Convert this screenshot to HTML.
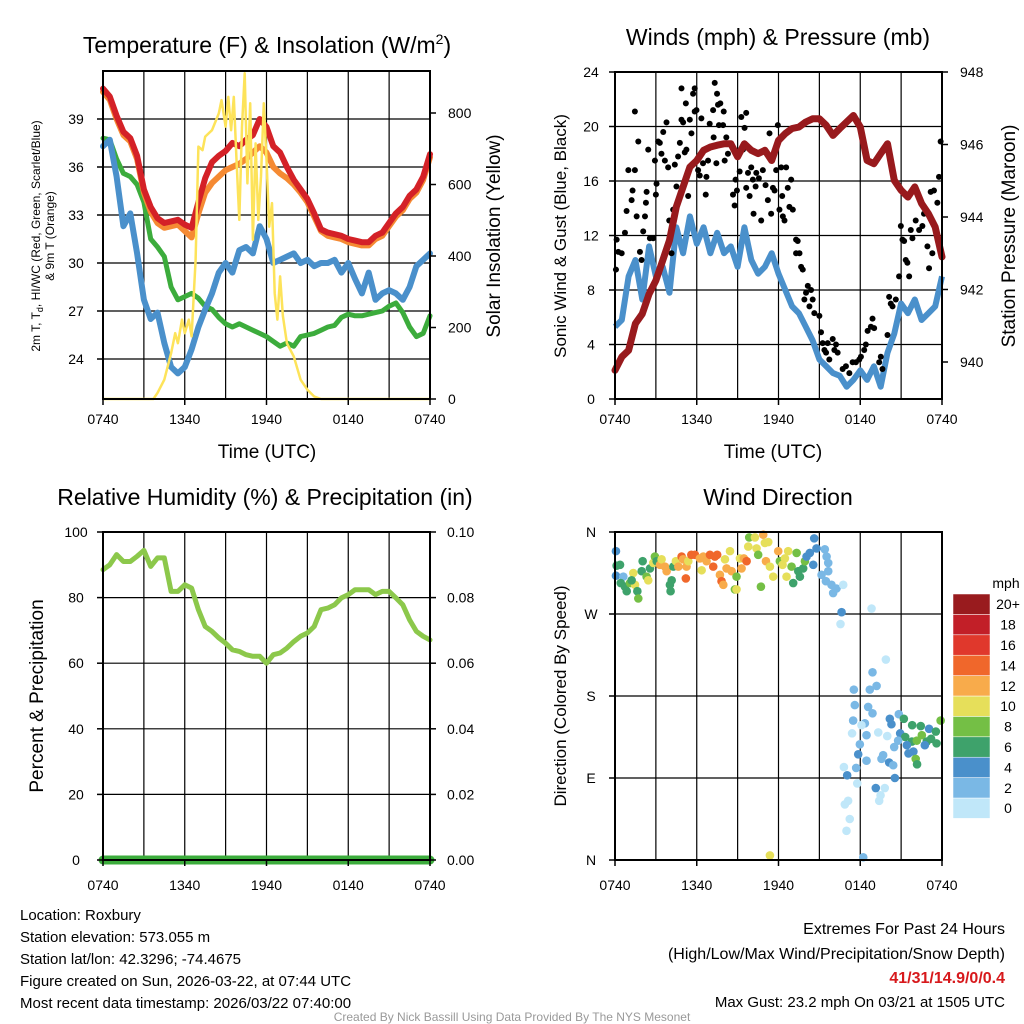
<!DOCTYPE html>
<html><head><meta charset="utf-8"><title>Station Meteogram</title>
<style>
html,body{margin:0;padding:0;background:#fff;}
svg{display:block;font-family:"Liberation Sans",Arial,sans-serif;}
</style></head>
<body>
<svg id="chart" width="1024" height="1024" viewBox="0 0 1024 1024" xmlns="http://www.w3.org/2000/svg">
<rect x="0" y="0" width="1024" height="1024" fill="#fff"/>
<g id="p1"></g>
<g id="p2"></g>
<g id="p3"></g>
<g id="p4"></g>

<text x="267" y="53" font-size="23" text-anchor="middle">Temperature (F) &amp; Insolation (W/m<tspan dy="-9" font-size="14">2</tspan><tspan dy="9">)</tspan></text>
<text x="778" y="45" font-size="23" text-anchor="middle">Winds (mph) &amp; Pressure (mb)</text>
<text x="265" y="505" font-size="23" text-anchor="middle">Relative Humidity (%) &amp; Precipitation (in)</text>
<text x="778" y="505" font-size="23" text-anchor="middle">Wind Direction</text>

<text transform="translate(40,236) rotate(-90)" font-size="12" text-anchor="middle">2m T, T<tspan dy="3" font-size="9">d</tspan><tspan dy="-3">, HI/WC (Red, Green, Scarlet/Blue)</tspan></text>
<text transform="translate(54,236) rotate(-90)" font-size="12" text-anchor="middle">&amp; 9m T (Orange)</text>
<text transform="translate(500,236) rotate(-90)" font-size="19" text-anchor="middle">Solar Insolation (Yellow)</text>
<text x="267" y="458" font-size="19" text-anchor="middle">Time (UTC)</text>

<text transform="translate(566,236) rotate(-90)" font-size="17" text-anchor="middle">Sonic Wind &amp; Gust (Blue, Black)</text>
<text transform="translate(1015,236) rotate(-90)" font-size="19" text-anchor="middle">Station Pressure (Maroon)</text>
<text x="773" y="458" font-size="19" text-anchor="middle">Time (UTC)</text>

<text transform="translate(43,696) rotate(-90)" font-size="19" text-anchor="middle">Percent &amp; Precipitation</text>
<text transform="translate(566,696) rotate(-90)" font-size="17" text-anchor="middle">Direction (Colored By Speed)</text>

<g id="cbar"></g>
<text x="1006" y="588" font-size="14" text-anchor="middle">mph</text>

<g font-size="15">
<text x="20" y="920">Location: Roxbury</text>
<text x="20" y="942">Station elevation: 573.055 m</text>
<text x="20" y="964">Station lat/lon: 42.3296; -74.4675</text>
<text x="20" y="986">Figure created on Sun, 2026-03-22, at 07:44 UTC</text>
<text x="20" y="1008">Most recent data timestamp: 2026/03/22 07:40:00</text>
</g>
<g font-size="16" text-anchor="end">
<text x="1005" y="934">Extremes For Past 24 Hours</text>
<text x="1005" y="959">(High/Low/Max Wind/Precipitation/Snow Depth)</text>
<text x="1005" y="983" font-weight="bold" fill="#d7191c">41/31/14.9/0/0.4</text>
<text x="1005" y="1007" font-size="15">Max Gust: 23.2 mph On 03/21 at 1505 UTC</text>
</g>
<text x="512" y="1021" font-size="12" fill="#999" text-anchor="middle">Created By Nick Bassill Using Data Provided By The NYS Mesonet</text>
</svg>
<script>
// ---------- DATA ----------
const hours = [0,0.5,1,1.5,2,2.5,3,3.5,4,4.5,5,5.5,6,6.5,7,7.5,8,8.5,9,9.5,10,10.5,11,11.5,12,12.5,13,13.5,14,14.5,15,15.5,16,16.5,17,17.5,18,18.5,19,19.5,20,20.5,21,21.5,22,22.5,23,23.5,24];
const timeTickLabels = ["0740","1340","1940","0140","0740"];
const timeTickHours = [0,6,12,18,24];
const tempTicks = [24,27,30,33,36,39];
const solarTicks = [0,200,400,600,800];
const temp2m = [40.9,40.4,39.2,38.2,37.8,36.7,34.6,33.5,32.8,32.5,32.6,32.7,32.4,32.2,33.8,35.3,36.3,36.7,37.0,37.5,37.3,37.7,38.0,39.0,38.5,37.3,36.9,36.0,35.2,34.6,34.0,33.1,32.1,31.9,31.8,31.7,31.5,31.4,31.3,31.3,31.7,31.9,32.5,33.1,33.5,34.2,34.6,35.4,36.8];
const temp9m = [40.7,40.2,39.0,38.0,37.6,36.5,34.4,33.2,32.5,32.2,32.3,32.4,32.0,31.6,33.1,34.4,35.0,35.4,35.8,36.0,36.2,36.5,36.9,37.3,36.9,36.0,35.6,35.3,34.9,34.4,33.8,32.9,32.0,31.7,31.6,31.5,31.3,31.2,31.1,31.1,31.5,31.7,32.3,32.9,33.3,34.0,34.4,35.2,36.6];
const dewpoint = [37.8,37.7,36.5,35.6,35.4,34.9,33.8,31.5,31.0,30.4,28.5,27.7,27.9,28.1,27.8,27.3,27.1,26.6,26.2,26.0,26.2,26.0,25.8,25.6,25.4,25.1,24.8,25.0,24.8,25.4,25.5,25.6,25.8,26.0,26.1,26.6,26.8,26.7,26.7,26.8,26.9,27.0,27.3,27.5,26.9,26.0,25.4,25.6,26.7];
const windchill = [37.3,37.7,35.4,32.3,33.1,30.6,27.7,26.5,26.9,25.0,23.5,23.1,23.5,24.6,26.0,27.1,28.1,29.4,30.0,29.4,30.8,31.0,30.6,32.3,31.5,30.0,30.2,30.4,30.6,30.0,30.2,29.8,30.0,30.0,30.2,29.4,30.0,29.0,28.1,29.4,27.7,28.1,28.3,28.1,27.7,28.5,29.8,30.2,30.6];
const solarHours = [0,3.7,4,4.5,5,5.3,5.5,5.8,6,6.3,6.5,6.8,7,7.3,7.5,8,8.5,8.7,9,9.2,9.4,9.6,9.8,10,10.2,10.4,10.6,10.8,11,11.2,11.4,11.6,11.8,12,12.2,12.4,12.6,12.8,13,13.2,13.5,14,14.5,15,15.5,16,24];
const solar = [0,0,17,54,128,184,156,222,184,222,175,389,706,696,734,752,799,836,762,845,752,845,669,501,762,911,603,827,445,715,501,622,827,669,482,548,296,222,343,232,156,119,54,26,7,0,0];

const windTicks = [0,4,8,12,16,20,24];
const presTicks = [940,942,944,946,948];
const windSpeed = [5.3,5.8,9,10.2,7.3,11.2,9,9.7,7.8,12.6,10.7,13.4,11.4,12.6,10.7,12.2,10.7,11.2,9.7,12.6,10.2,9.2,9.7,10.7,9.2,8,6.8,6.3,5.3,4.3,2.9,2.4,1.9,1.7,0.9,1.4,2.1,1.4,2.4,0.9,3.4,4.8,7,6.3,7.3,5.8,6.3,6.8,9];
const pressure = [939.77,940.14,940.32,941.06,941.33,941.88,942.25,942.8,943.36,944.28,944.83,945.38,945.56,945.84,945.93,945.98,946.02,946.02,945.66,946.02,945.84,945.75,945.84,945.56,946.11,946.3,946.44,946.48,946.62,946.71,946.71,946.53,946.25,946.44,946.62,946.8,946.48,945.56,945.47,945.75,946.02,945.01,944.74,944.55,944.83,944.37,944.09,943.72,942.9];
const gustHours = [0.12,0.24,0.07,0.49,0.85,0.73,0.98,1.22,1.29,1.46,1.46,1.59,1.71,1.83,1.95,2.07,2.2,2.27,2.32,2.44,2.56,2.8,2.93,3.0,3.05,3.17,3.29,3.41,3.54,3.66,3.78,3.9,3.98,4.15,4.27,4.39,4.51,4.63,4.76,4.88,4.88,5.0,5.12,5.2,5.24,5.37,5.49,5.61,5.73,5.85,5.85,5.98,6.1,6.22,6.34,6.46,6.66,6.71,6.83,6.95,7.2,7.24,7.32,7.44,7.49,7.56,7.63,7.73,7.93,7.98,8.05,8.17,8.29,8.66,8.78,8.85,8.95,9.15,9.27,9.39,9.51,9.63,9.63,9.76,9.88,10.0,10.12,10.17,10.32,10.37,10.56,10.73,10.85,11.05,11.22,11.34,11.46,11.59,11.71,11.83,11.95,12.07,12.2,12.27,12.32,12.44,12.56,12.68,12.8,12.93,13.05,13.29,13.41,13.29,13.54,13.66,13.78,13.9,14.02,14.15,14.27,14.39,14.51,14.63,15.0,15.12,15.24,15.37,15.49,15.61,15.73,15.98,16.1,16.22,16.34,16.71,16.95,17.2,17.44,17.68,17.93,18.05,18.29,18.41,18.54,18.78,18.9,19.02,19.39,19.51,19.63,20.0,20.12,20.24,20.37,20.61,20.85,20.98,21.1,21.22,21.34,21.46,21.59,21.71,21.83,22.07,22.32,22.56,22.68,22.93,23.05,23.17,23.29,23.41,23.66,23.78,23.9];
const gustSpeed = [11.7,10.8,9.5,10.7,13.8,12.2,16.8,14.6,15.3,16.8,21.1,13.4,18.9,10.8,10.2,12.3,13.4,14.4,15.2,18.3,11.8,11.8,17.5,15,15.8,18.9,18.8,18,19.6,17.5,20.3,17,13.1,10.7,13.9,17.2,15.6,17.8,18.8,20.5,22.8,20.3,18.1,21.7,18.3,14.9,20.5,19.5,22.4,22.8,21.1,21.2,16.8,16.4,20.6,17.3,15,16.3,17.5,20.2,21.2,19.2,23.2,17.3,22.4,21.6,20.1,21.7,20.1,21.1,17.5,19.2,18,15,14.2,16.1,15.3,16.7,20.7,18.3,19.9,21,15.5,16.6,14.9,17,16.1,13.6,15.6,16.6,16.2,13.1,16.8,15.7,14.6,19.5,13.6,15.5,15.3,16.8,20.1,13.9,17,14.9,13.4,13.1,17,15.5,14.1,16.1,13.9,11.7,11.6,10.7,10.7,9.7,9.5,7.3,7.8,8.3,6.8,8,7.3,6.3,6.1,4.9,4.1,3.6,3.4,4.1,2.9,4.4,3.6,4,3.4,2.2,2.4,1.9,2.7,2.7,2.9,3.1,3.6,4,5,5.3,5.9,5.2,2.7,3.1,2.2,4.7,7.5,7,6.8,7.3,9,12.7,11.7,11.6,10.2,10,9,12.4,11.8,13.1,12.4,12.7,13.6,11.2,9.6,15.2,10.7,15.3,14.4,16.3,18.9];

const rhTicks = [0,20,40,60,80,100];
const precipTickLabels = ["0.00","0.02","0.04","0.06","0.08","0.10"];
const humidity = [88.5,90,93.1,91,91,92.6,94.4,89.5,92.1,92.1,81.9,81.9,83.9,82.9,76.3,71.2,69.7,67.7,66.1,64.1,63.6,62.6,62.1,62.1,60,62.6,63.1,64.6,66.6,68.2,69.2,71.2,76.3,76.8,77.8,79.9,80.9,82.4,82.4,82.4,80.9,81.9,81.9,79.9,77.8,73.2,69.7,68.2,67.1];
const precip = [0,0,0,0,0,0,0,0,0,0,0,0,0,0,0,0,0,0,0,0,0,0,0,0,0,0,0,0,0,0,0,0,0,0,0,0,0,0,0,0,0,0,0,0,0,0,0,0,0];

const dirTickLabels = ["N","E","S","W","N"];
const dirTicks = [0,90,180,270,360];
const dirHours = [0.07,0.12,0.07,0.37,0.61,0.42,0.86,0.73,1.1,1.34,1.47,1.64,1.71,1.22,1.96,2.03,2.32,2.44,2.57,2.81,2.93,3.06,3.3,3.42,3.67,3.79,4.03,4.08,4.16,4.28,4.47,4.65,4.89,5.0,5.2,5.25,5.38,5.6,5.87,6.23,6.36,6.48,6.72,6.97,7.21,7.33,7.5,7.7,7.82,7.95,8.07,8.19,8.44,8.56,8.8,8.92,8.92,9.17,9.29,9.46,9.66,9.78,9.85,10.27,10.39,10.51,10.71,10.88,11.0,11.25,11.08,11.37,11.61,11.98,12.1,12.3,12.47,12.59,12.71,12.96,13.08,13.33,13.45,13.57,13.81,13.94,14.06,14.3,14.55,14.62,14.79,15.16,15.4,15.53,15.65,15.65,15.48,15.89,16.01,16.26,16.75,16.63,16.55,18.83,19.88,18.9,17.53,18.7,19.2,17.6,18.58,18.9,17.48,18.34,18.09,17.4,18.46,19.32,19.98,17.97,17.85,18.46,19.68,19.56,20.12,20.42,20.49,16.8,17.7,17.04,17.78,19.14,19.8,19.49,19.39,17.11,16.87,17.23,16.99,18.22,11.37,20.17,20.29,20.83,21.2,21.81,22.44,23.05,23.9,20.93,21.3,21.79,22.15,22.52,22.88,23.2,23.55,21.42,21.9,21.54,22.07,22.17,20.54,22.74,20.78,23.6];
const dirDeg = [339,323,312,324,311,304,295,300,304,315,302,295,287,307,317,328,311,307,320,326,333,328,324,330,322,317,302,295,307,322,328,322,333,330,309,322,328,335,335,331,318,333,328,335,322,333,335,313,306,302,330,320,339,317,297,297,311,331,320,331,328,344,354,354,342,335,300,357,348,349,328,322,311,339,328,324,331,311,339,322,304,337,317,311,320,328,333,337,324,353,342,313,341,333,326,317,306,302,293,298,302,272,259,276,220,206,187,187,191,170,168,161,153,150,148,139,137,140,136,127,116,109,115,111,107,104,124,102,101,93,84,79,79,71,65,65,61,45,32,3,5,155,149,160,155,148,147,144,153,139,135,130,131,137,130,133,141,126,119,117,111,105,90,126,131,128];
const dirSpeed = [4.2,6.2,4.2,6.2,2.4,6.2,6.2,6.2,8.2,10.2,10.2,6.2,8.2,6.2,6.2,6.2,8.2,10.2,6.2,10.2,8.2,6.2,12,10.2,12,12,6.2,6.2,6.2,6.2,10.2,12,14,12,14,12,10.2,14,14,12,10.2,12,12,14,14,14,14,12,14,12,10.2,12,10.2,12,8.2,10.2,8.2,10.2,12,12,14,10.2,8.2,10.2,10.2,8.2,8.2,12,10.2,10.2,12,10.2,10.2,12,8.2,10.2,10.2,10.2,10.2,8.2,6.2,8.2,6.2,6.2,6.2,8.2,4.2,4.2,4.2,4.2,4.2,2.4,2.4,2.4,2.4,2.4,2.4,2.4,2.4,2.4,0.6,4.2,0.6,0.6,0.6,2.4,2.4,2.4,2.4,2.4,2.4,2.4,2.4,2.4,0.6,0.6,2.4,0.6,0.6,2.4,4.2,2.4,2.4,2.4,4.2,2.4,2.4,0.6,2.4,4.2,0.6,4.6,0.6,0.6,0.6,0.6,0.6,0.6,0.6,2.4,10.2,4.6,4.2,2.4,6.2,6.2,6.2,4.2,8.2,4.2,6.2,6.2,8.2,8.2,6.2,6.2,6.2,4.2,4.2,4.2,8.2,6.2,4.2,4.2,2.4,6.2];
const colorbarLabels = ["0","2","4","6","8","10","12","14","16","18","20+"];
const colorbarColors = ["#c0e7f9","#7ab8e5","#4a90cb","#3ea26b","#74bf45","#e6df5a","#f8ab4b","#f0672b","#e0382c","#c21f28","#991b1e"];

// ---------- HELPERS ----------
const NS = "http://www.w3.org/2000/svg";
function lin(d0,d1,r0,r1){ return v => r0 + (v-d0)*(r1-r0)/(d1-d0); }
function el(parent, tag, attrs){
  const e = document.createElementNS(NS, tag);
  for (const k in attrs) e.setAttribute(k, attrs[k]);
  parent.appendChild(e);
  return e;
}
function txt(parent, x, y, s, size, anchor){
  const t = el(parent,"text",{x:x,y:y,"font-size":size,"text-anchor":anchor||"middle"});
  t.textContent = s;
  return t;
}
function pathOf(xs, ys, sx, sy){
  let d = "";
  for (let i=0;i<xs.length;i++) d += (i?"L":"M") + sx(xs[i]).toFixed(1) + "," + sy(ys[i]).toFixed(1);
  return d;
}
function frame(g, L, T, R, B, hx, yTicksPx){
  for (let h=3; h<24; h+=3){
    const x = hx(h);
    const ln = el(g,"line",{x1:x,y1:T,x2:x,y2:B,stroke:"#000","stroke-width":1.2});
    
    
  }
  yTicksPx.forEach(y=>{
    const ln = el(g,"line",{x1:L,y1:y,x2:R,y2:y,stroke:"#000","stroke-width":1.2});
    
    
  });
}
function border(g, L, T, R, B){
  const r = el(g,"rect",{x:L,y:T,width:R-L,height:B-T,fill:"none",stroke:"#000","stroke-width":2});
  
  
}
function xAxis(g, hx, B, labelY){
  timeTickHours.forEach((h,i)=>{
    const x = hx(h);
    el(g,"line",{x1:x,y1:B,x2:x,y2:B+6,stroke:"#000","stroke-width":1.5});
    const t = txt(g, x, labelY, timeTickLabels[i], 14);
    
    
  });
}

// ---------- PANEL 1: Temperature ----------
(function(){
  const g = document.getElementById("p1");
  const L=103,R=430,T=71,B=399;
  const hx = lin(0,24,L,R);
  const ty = lin(24,39,359,119);
  const sy = lin(0,800,399,113);
  frame(g,L,T,R,B,hx,tempTicks.map(ty));
  const series = [
    [dewpoint,"#3cac3c",5,"dewpoint-line"],
    [windchill,"#4a90cb",6,"windchill-line"],
    [temp9m,"#f58a33",6,"temp-9m-line"],
    [temp2m,"#d42127",6,"temp-2m-line"]
  ];
  series.forEach(s=>{
    const p = el(g,"path",{d:pathOf(hours,s[0],hx,ty),fill:"none",stroke:s[1],"stroke-width":s[2],"stroke-linejoin":"round","stroke-linecap":"round"});
    
    
  });
  const ys = el(g,"path",{d:pathOf(solarHours,solar,hx,sy),fill:"none",stroke:"#fde35a","stroke-width":2.5,"stroke-linejoin":"round"});
  
  
  border(g,L,T,R,B);
  tempTicks.forEach(v=>{
    const y = ty(v);
    el(g,"line",{x1:L-6,y1:y,x2:L,y2:y,stroke:"#000","stroke-width":1.5});
    const t = txt(g, 76, y+5, String(v), 14);
    
    
  });
  solarTicks.forEach(v=>{
    const y = sy(v);
    el(g,"line",{x1:R,y1:y,x2:R+6,y2:y,stroke:"#000","stroke-width":1.5});
    const t = txt(g, 448, y+5, String(v), 14, "start");
    
    
  });
  xAxis(g,hx,B,424);
})();

// ---------- PANEL 2: Winds ----------
(function(){
  const g = document.getElementById("p2");
  const L=615,R=942,T=72,B=399;
  const hx = lin(0,24,L,R);
  const wy = lin(0,24,B,T);
  const py = lin(940,948,362,72);
  frame(g,L,T,R,B,hx,windTicks.map(wy));
  const wp = el(g,"path",{d:pathOf(hours,windSpeed,hx,wy),fill:"none",stroke:"#4a90cb","stroke-width":6,"stroke-linejoin":"round"});
  
  
  gustHours.forEach((h,i)=>{
    const c = el(g,"circle",{cx:hx(h),cy:wy(gustSpeed[i]),r:3,fill:"#000"});
    
    
  });
  const pp = el(g,"path",{d:pathOf(hours,pressure,hx,py),fill:"none",stroke:"#981a1d","stroke-width":7,"stroke-linejoin":"round","stroke-linecap":"round"});
  
  
  border(g,L,T,R,B);
  windTicks.forEach(v=>{
    const y = wy(v);
    el(g,"line",{x1:L-6,y1:y,x2:L,y2:y,stroke:"#000","stroke-width":1.5});
    const t = txt(g, 591, y+5, String(v), 14);
    
    
  });
  presTicks.forEach(v=>{
    const y = py(v);
    el(g,"line",{x1:R,y1:y,x2:R+6,y2:y,stroke:"#000","stroke-width":1.5});
    const t = txt(g, 960, y+5, String(v), 14, "start");
    
    
  });
  xAxis(g,hx,B,424);
})();

// ---------- PANEL 3: Humidity ----------
(function(){
  const g = document.getElementById("p3");
  const L=103,R=430,T=532,B=860;
  const hx = lin(0,24,L,R);
  const ry = lin(0,100,B,T);
  frame(g,L,T,R,B,hx,rhTicks.map(ry));
  const rp = el(g,"path",{d:pathOf(hours,humidity,hx,ry),fill:"none",stroke:"#8cc84b","stroke-width":5,"stroke-linejoin":"round","stroke-linecap":"round"});
  
  
  const qy = lin(0,0.1,B,T);
  const pr = el(g,"path",{d:pathOf(hours,precip,hx,qy),fill:"none",stroke:"#3cac3c","stroke-width":9,"stroke-linecap":"round"});
  
  
  border(g,L,T,R,B);
  rhTicks.forEach((v,i)=>{
    const y = ry(v);
    el(g,"line",{x1:L-6,y1:y,x2:L,y2:y,stroke:"#000","stroke-width":1.5});
    const t = txt(g, 76, y+5, String(v), 14);
    
    
    el(g,"line",{x1:R,y1:y,x2:R+6,y2:y,stroke:"#000","stroke-width":1.5});
    const t2 = txt(g, 447, y+5, precipTickLabels[i], 14, "start");
    
    
  });
  xAxis(g,hx,B,890);
})();

// ---------- PANEL 4: Wind direction ----------
(function(){
  const g = document.getElementById("p4");
  const L=615,R=942,T=532,B=860;
  const hx = lin(0,24,L,R);
  const dy = lin(0,360,B,T);
  frame(g,L,T,R,B,hx,dirTicks.map(dy));
  dirHours.forEach((h,i)=>{
    const idx = Math.min(10, Math.round(dirSpeed[i]/2));
    const c = el(g,"circle",{cx:hx(h),cy:dy(dirDeg[i]),r:4.3,fill:colorbarColors[idx]});
    
    
  });
  border(g,L,T,R,B);
  dirTicks.forEach((v,i)=>{
    const y = dy(v);
    el(g,"line",{x1:L-6,y1:y,x2:L,y2:y,stroke:"#000","stroke-width":1.5});
    const t = txt(g, 591, y+5, dirTickLabels[i], 14);
    
    
  });
  xAxis(g,hx,B,890);

  const cb = document.getElementById("cbar");
  const top=594, bh=20.4;
  colorbarLabels.forEach((lab,i)=>{
    const y = top + (10-i)*bh;
    const r = el(cb,"rect",{x:953,y:y,width:37,height:bh,fill:colorbarColors[i],stroke:"#fff","stroke-width":0.5});
    
    
    const t = txt(cb, 1008, y+bh/2+5, lab, 14);
    
    
  });
})();
</script>
</body></html>
